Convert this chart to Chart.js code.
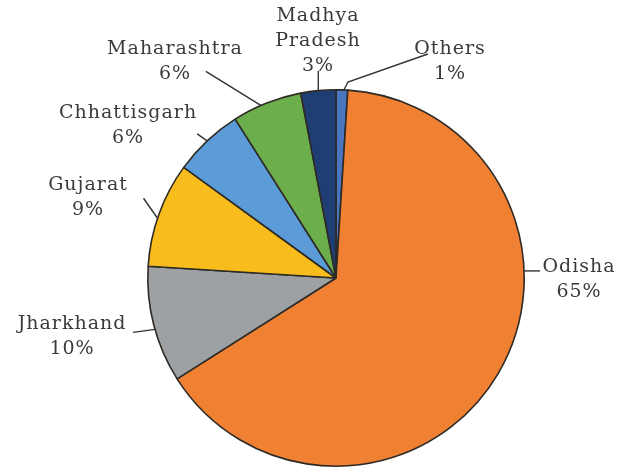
<!DOCTYPE html>
<html lang="en">
<head>
  <meta charset="UTF-8">
  <title>Iron ore production by state</title>
  <style>
    body { margin: 0; background: #fff; }
    #wrap { width: 619px; height: 470px; position: relative; }
  </style>
</head>
<body>
  <div id="wrap"><canvas id="pie" width="619" height="470"></canvas></div>

  <script src="https://cdn.jsdelivr.net/npm/chart.js"></script>
  <script>
    // Slices in clockwise order, starting at 12 o'clock
    const states = ['Others', 'Odisha', 'Jharkhand', 'Gujarat', 'Chhattisgarh', 'Maharashtra', 'Madhya Pradesh'];
    const shares = [1, 65, 10, 9, 6, 6, 3];
    const labelLines = [['Others', '1%'], ['Odisha', '65%'], ['Jharkhand', '10%'], ['Gujarat', '9%'],
                        ['Chhattisgarh', '6%'], ['Maharashtra', '6%'], ['Madhya', 'Pradesh', '3%']];
    const colours = ['#4a76c0', '#f08133', '#9da1a4', '#f8bd1d', '#5a9bd8', '#6cae4b', '#1f3e74'];

    // where each callout sits: t = position along the slice arc,
    // (lx, ly) = leader end relative to arc point, (tx, ty) = first text line centre
    const callouts = [
      { t: 0.67, lx: 4,   ly: -8,  kx: 80,  ky: -28, tx: 450, ty: 49 },
      { t: 0.36, lx: 16,  ly: 0,   tx: 579, ty: 267 },
      { t: 0.46, lx: -22, ly: 3,   tx: 72,  ty: 324 },
      { t: 0.46, lx: -14, ly: -20, tx: 88,  ty: 185 },
      { t: 0.5,  lx: -10, ly: -7,  tx: 128, ty: 113 },
      { t: 0.41, lx: -55, ly: -34, tx: 175, ty: 49 },
      { t: 0.5,  lx: 0,   ly: -20, tx: 318, ty: 16 }
    ];

    const calloutPlugin = {
      id: 'callouts',
      afterDatasetsDraw(chart) {
        const ctx = chart.ctx;
        const arcs = chart.getDatasetMeta(0).data;
        ctx.save();
        arcs.forEach((arc, i) => {
          const c = callouts[i];
          const p = arc.getProps(['x', 'y', 'startAngle', 'endAngle', 'outerRadius'], true);
          const a = p.startAngle + (p.endAngle - p.startAngle) * c.t;
          const sx = p.x + Math.cos(a) * p.outerRadius;
          const sy = p.y + Math.sin(a) * p.outerRadius;
          ctx.strokeStyle = '#333';
          ctx.lineWidth = 1.4;
          ctx.beginPath();
          ctx.moveTo(sx, sy);
          ctx.lineTo(sx + c.lx, sy + c.ly);
          if (c.kx !== undefined) ctx.lineTo(sx + c.lx + c.kx, sy + c.ly + c.ky);
          ctx.stroke();

          ctx.fillStyle = '#3a3a3a';
          ctx.font = '19px "DejaVu Serif", "Liberation Serif", serif';
          ctx.letterSpacing = '1px';
          ctx.textAlign = 'center';
          ctx.textBaseline = 'middle';
          labelLines[i].forEach((txt, k) => {
            ctx.fillText(txt, c.tx, c.ty + k * 25);
          });
        });
        ctx.restore();
      }
    };

    new Chart(document.getElementById('pie'), {
      type: 'pie',
      data: {
        labels: states,
        datasets: [{
          data: shares,
          backgroundColor: colours,
          borderColor: '#2e2a26',
          borderWidth: 1.6
        }]
      },
      options: {
        responsive: false,
        animation: false,
        layout: { padding: { left: 147, right: 94, top: 89, bottom: 3 } },
        plugins: {
          legend: { display: false },
          tooltip: { enabled: false }
        }
      },
      plugins: [calloutPlugin]
    });
  </script>
</body>
</html>
